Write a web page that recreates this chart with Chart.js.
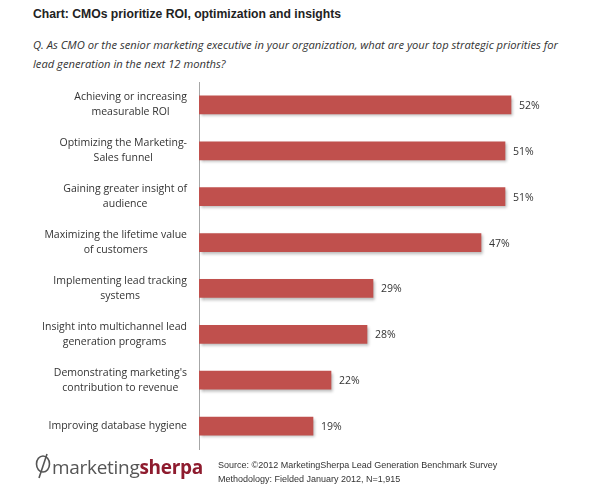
<!DOCTYPE html>
<html>
<head>
<meta charset="utf-8">
<script src="https://cdn.jsdelivr.net/npm/chart.js@4/dist/chart.umd.min.js"></script>
<style>
  html, body { margin: 0; padding: 0; background: #fff; }
  #wrap { position: relative; width: 600px; height: 497px; overflow: hidden; }
  #title { position: absolute; left: 33px; top: 7px; font: bold 12.2px "Liberation Sans", Arial, sans-serif; color: #222; }
  #question { position: absolute; left: 33px; top: 35px; width: 548px; font: italic 11.2px "Open Sans", sans-serif; line-height: 19px; color: #333; }
  #chart { position: absolute; left: 0; top: 72px; }
  #logo { position: absolute; left: 35px; top: 453px; font: 19px "Open Sans", sans-serif; color: #555; letter-spacing: -0.3px; }
  #logo b { color: #8e1b2e; }
  #logo svg { vertical-align: -5px; margin-right: 1px; }
  #source { position: absolute; left: 218px; top: 458px; font: 9px "Liberation Sans", Arial, sans-serif; line-height: 14px; color: #333; }
</style>
</head>
<body>
<div id="wrap">
  <div id="title">Chart: CMOs prioritize ROI, optimization and insights</div>
  <div id="question">Q. As CMO or the senior marketing executive in your organization, what are your top strategic priorities for lead generation in the next 12 months?</div>
  <canvas id="chart" width="600" height="390"></canvas>
  <div id="logo"><svg width="16" height="26" viewBox="0 0 16 26"><ellipse cx="8" cy="11" rx="6.5" ry="8" fill="none" stroke="#555" stroke-width="1.6"/><line x1="12" y1="1" x2="4" y2="25" stroke="#555" stroke-width="1.6"/></svg>marketing<b>sherpa</b></div>
  <div id="source">Source: ©2012 MarketingSherpa Lead Generation Benchmark Survey<br>Methodology: Fielded January 2012, N=1,915</div>
</div>
<script>
const categories = [
  ["Achieving or increasing", "measurable ROI"],
  ["Optimizing the Marketing-", "Sales funnel"],
  ["Gaining greater insight of", "audience"],
  ["Maximizing the lifetime value", "of customers"],
  ["Implementing lead tracking", "systems"],
  ["Insight into multichannel lead", "generation programs"],
  ["Demonstrating marketing's", "contribution to revenue"],
  ["Improving database hygiene"]
];
const values = [52, 51, 51, 47, 29, 28, 22, 19];

const barShadow = {
  id: "barShadow",
  beforeDatasetDraw(chart) {
    const ctx = chart.ctx;
    ctx.save();
    ctx.shadowColor = "rgba(0,0,0,0.3)";
    ctx.shadowOffsetX = 2;
    ctx.shadowOffsetY = 2;
    ctx.shadowBlur = 3;
  },
  afterDatasetDraw(chart) {
    chart.ctx.restore();
  }
};

// category labels: right-aligned blocks, lines centred inside each block
const categoryLabels = {
  id: "categoryLabels",
  afterDraw(chart) {
    const ctx = chart.ctx;
    const y = chart.scales.y;
    const right = y.right - 12;
    ctx.save();
    ctx.font = "10.5px 'Open Sans', sans-serif";
    ctx.fillStyle = "#333";
    ctx.textAlign = "center";
    ctx.textBaseline = "middle";
    categories.forEach((lines, i) => {
      const w = Math.max(...lines.map(l => ctx.measureText(l).width));
      const cx = right - w / 2;
      const cy = y.getPixelForTick(i);
      lines.forEach((l, j) => {
        ctx.fillText(l, cx, cy + (j - (lines.length - 1) / 2) * 15);
      });
    });
    ctx.restore();
  }
};

const valueLabels = {
  id: "valueLabels",
  afterDatasetsDraw(chart) {
    const ctx = chart.ctx;
    ctx.save();
    ctx.font = "10.5px 'Open Sans', sans-serif";
    ctx.fillStyle = "#333";
    ctx.textAlign = "left";
    ctx.textBaseline = "middle";
    chart.getDatasetMeta(0).data.forEach((bar, i) => {
      ctx.fillText(values[i] + "%", bar.x + 8, bar.y + 1);
    });
    ctx.restore();
  }
};

new Chart(document.getElementById("chart"), {
  type: "bar",
  data: {
    labels: categories,
    datasets: [{
      data: values,
      backgroundColor: "#c0504d",
      barThickness: 18
    }]
  },
  options: {
    indexAxis: "y",
    responsive: false,
    animation: false,
    layout: { padding: { top: 10, bottom: 13, left: 0, right: 41 } },
    plugins: {
      legend: { display: false },
      tooltip: { enabled: false }
    },
    scales: {
      x: { display: false, min: 0, max: 60 },
      y: {
        afterFit(scale) { scale.width = 199; },
        grid: { display: false, drawTicks: false },
        border: { display: true, color: "#a6a6a6", width: 1 },
        ticks: { display: false }
      }
    }
  },
  plugins: [barShadow, categoryLabels, valueLabels]
});
</script>
</body>
</html>
